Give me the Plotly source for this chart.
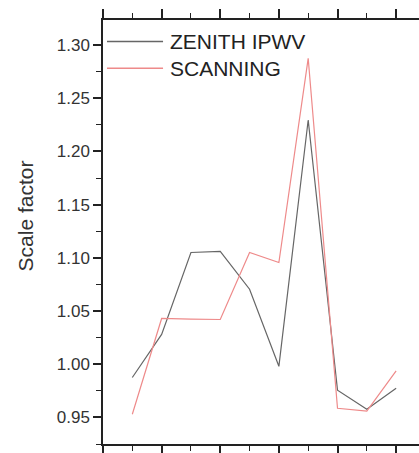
import plotly.graph_objects as go

# Sample index along the horizontal axis
sample = [1, 2, 3, 4, 5, 6, 7, 8, 9, 10]

# Scale factor per sample
zenith_ipwv = [0.9875, 1.028, 1.105, 1.106, 1.0705, 0.998, 1.2295, 0.9756, 0.9577, 0.9774]
scanning = [0.953, 1.043, 1.0423, 1.042, 1.105, 1.0956, 1.2875, 0.9586, 0.956, 0.9937]

series_names = ["ZENITH IPWV", "SCANNING"]
series_colors = ["#666666", "#ee8a8a"]

FONT = "Liberation Sans, Arial"

fig = go.Figure()
for name, vals, col in zip(series_names, [zenith_ipwv, scanning], series_colors):
    fig.add_trace(go.Scatter(x=sample, y=vals, mode="lines", name=name,
                             line=dict(color=col, width=1.2), showlegend=False))

# Hand-drawn key in the upper-left corner of the plotting area
key_rows = [0.949, 0.886]
for name, col, yk in zip(series_names, series_colors, key_rows):
    fig.add_shape(type="line", xref="paper", yref="paper",
                  x0=0.0127, x1=0.19, y0=yk, y1=yk,
                  line=dict(color=col, width=1.5))
    fig.add_annotation(x=0.205, y=yk, xref="paper", yref="paper", text=name,
                       showarrow=False, xanchor="left", yanchor="middle",
                       font=dict(family=FONT, size=21, color="#222222"))

# Vertical axis title
fig.add_annotation(x=-0.245, y=0.538, xref="paper", yref="paper",
                   text="Scale factor", textangle=-90, showarrow=False,
                   xanchor="center", yanchor="middle",
                   font=dict(family=FONT, size=21, color="#333333"))

axis_font = dict(family=FONT, size=17, color="#333333")

fig.update_layout(
    width=419, height=453,
    margin=dict(l=103, r=0, t=20, b=9),
    paper_bgcolor="white", plot_bgcolor="white",
    xaxis=dict(range=[0, 10.78], showgrid=False, zeroline=False,
               showline=True, linecolor="#222222", linewidth=1.5,
               mirror="ticks", ticks="outside", tickcolor="#222222",
               ticklen=9, tickwidth=1.5, tick0=0, dtick=2,
               showticklabels=False,
               minor=dict(dtick=1, ticks="outside", ticklen=5,
                          tickcolor="#222222", tickwidth=1.2)),
    yaxis=dict(range=[0.925, 1.3235], showgrid=False, zeroline=False,
               showline=True, linecolor="#222222", linewidth=1.5,
               ticks="outside", tickcolor="#222222", ticklen=8, tickwidth=1.5,
               tick0=0.95, dtick=0.05, tickformat=".2f", tickfont=axis_font,
               minor=dict(dtick=0.025, ticks="outside", ticklen=5,
                          tickcolor="#222222", tickwidth=1.2)),
)

fig.write_html("out.html")
